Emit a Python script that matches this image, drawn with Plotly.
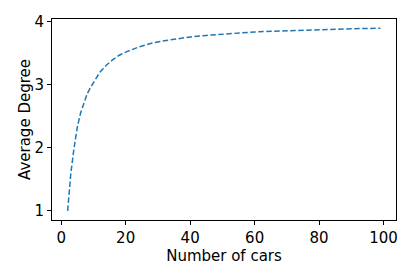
import plotly.graph_objects as go

num_cars = [2, 3, 4, 5, 6, 7, 8, 9, 10, 12, 14, 16, 18, 20, 24, 28, 32, 36, 40,
            45, 50, 55, 60, 65, 70, 75, 80, 85, 90, 95, 99]
avg_degree = [1.00, 1.60, 2.00, 2.33, 2.55, 2.72, 2.85, 2.95, 3.04, 3.20, 3.31,
              3.40, 3.47, 3.52, 3.60, 3.66, 3.70, 3.73, 3.76, 3.785, 3.805,
              3.825, 3.84, 3.85, 3.86, 3.87, 3.88, 3.885, 3.89, 3.895, 3.90]

x_ticks = [0, 20, 40, 60, 80, 100]
y_ticks = [1, 2, 3, 4]

fig = go.Figure()
fig.add_trace(go.Scatter(
    x=num_cars, y=avg_degree, mode="lines",
    line=dict(color="#1f77b4", width=1.5, dash="5.5px,2.5px"),
    showlegend=False, hoverinfo="skip",
))

axis_common = dict(
    showline=True, linecolor="black", linewidth=1, mirror=True,
    ticks="outside", ticklen=4, tickwidth=1, tickcolor="black",
    showgrid=False, zeroline=False, automargin=False,
    tickfont=dict(family="DejaVu Sans", size=15, color="black"),
)

fig.update_layout(
    width=415, height=277,
    margin=dict(l=52, r=19, t=19, b=57),
    paper_bgcolor="white", plot_bgcolor="white",
    xaxis=dict(range=[-2.85, 103.85], tickvals=x_ticks,
               title=dict(text="Number of cars", standoff=0,
                          font=dict(family="DejaVu Sans", size=15, color="black")),
               **axis_common),
    yaxis=dict(range=[0.855, 4.045], tickvals=y_ticks,
               title=dict(text="Average Degree", standoff=0,
                          font=dict(family="DejaVu Sans", size=15, color="black")),
               **axis_common),
)

fig.write_html("out.html", config={"displayModeBar": False},
               post_script="document.body.style.margin='0';document.body.style.overflow='hidden';")
